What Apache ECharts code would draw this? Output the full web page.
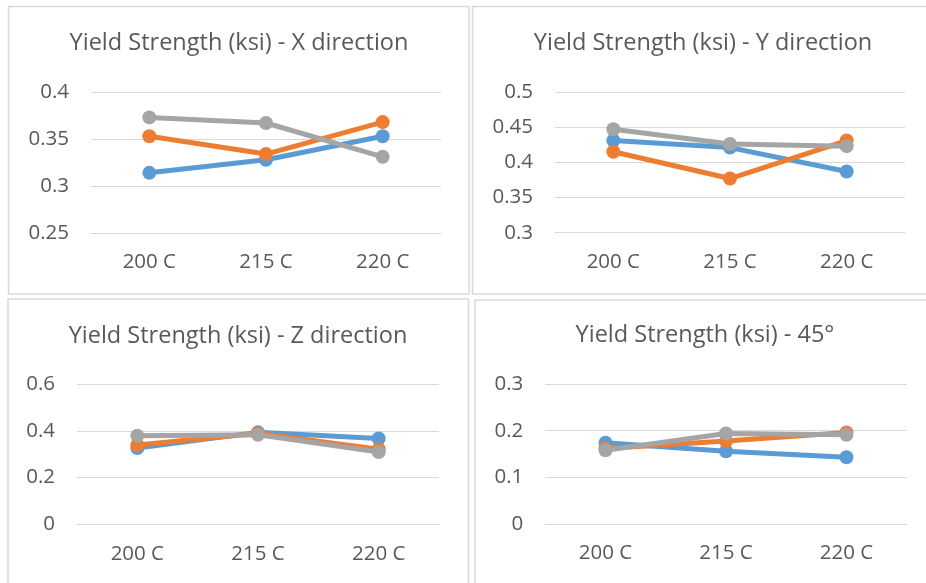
<!DOCTYPE html>
<html>
<head>
<meta charset="utf-8">
<script src="https://cdn.jsdelivr.net/npm/echarts@6/dist/echarts.min.js"></script>
<style>
html,body{margin:0;padding:0;background:#fff;}
#c{width:926px;height:583px;}
</style>
</head>
<body>
<div id="c"></div>
<script>
const categories = ['200 C', '215 C', '220 C'];
const titles = [
  'Yield Strength (ksi) - X direction',
  'Yield Strength (ksi) - Y direction',
  'Yield Strength (ksi) - Z direction',
  'Yield Strength (ksi) - 45°'
];
// series values per panel: [blue, orange, grey]
const xBlue = [0.314, 0.328, 0.353];
const xOrange = [0.353, 0.334, 0.368];
const xGrey = [0.373, 0.367, 0.331];
const yBlue = [0.431, 0.421, 0.387];
const yOrange = [0.415, 0.377, 0.431];
const yGrey = [0.447, 0.426, 0.423];
const zBlue = [0.327, 0.394, 0.368];
const zOrange = [0.340, 0.390, 0.322];
const zGrey = [0.380, 0.384, 0.310];
const d45Blue = [0.174, 0.156, 0.143];
const d45Orange = [0.162, 0.178, 0.196];
const d45Grey = [0.158, 0.194, 0.191];
// y-axis scales: [min, max, interval]
const yScales = [[0.25, 0.4, 0.05], [0.3, 0.5, 0.05], [0, 0.6, 0.2], [0, 0.3, 0.1]];

const panelData = [
  [xBlue, xOrange, xGrey],
  [yBlue, yOrange, yGrey],
  [zBlue, zOrange, zGrey],
  [d45Blue, d45Orange, d45Grey]
];
const colors = ['#5B9BD5', '#ED7D31', '#A5A5A5'];
const FONT = 'Open Sans';
const TXT = '#595959';
const GRIDC = '#d9d9d9';

// layout
const grids = [
  {left: 91, top: 92, width: 350, height: 141},
  {left: 555, top: 92, width: 350, height: 140.7},
  {left: 77, top: 384.3, width: 362, height: 140},
  {left: 545.3, top: 384, width: 361.4, height: 140}
];
const titlePos = [[239, 43], [703, 43], [238, 336], [705, 335]];
const panels = [
  {x: 8.5, y: 6.5, w: 460.5, h: 287.5},
  {x: 472.5, y: 6.5, w: 470, h: 287.5},
  {x: 8, y: 299, w: 460.5, h: 300},
  {x: 475, y: 300, w: 470, h: 300}
];

const chart = echarts.init(document.getElementById('c'), null, {renderer: 'canvas'});
const option = {
  animation: false,
  backgroundColor: '#fff',
  textStyle: {fontFamily: FONT},
  title: titles.map((t, i) => ({
    text: t,
    left: titlePos[i][0],
    top: titlePos[i][1] - 15,
    textAlign: 'center',
    textStyle: {fontFamily: FONT, fontSize: 23.5, fontWeight: 'normal', color: TXT, lineHeight: 30},
    padding: 0
  })),
  graphic: panels.map(p => ({
    type: 'rect', silent: true, z: -1,
    shape: {x: p.x, y: p.y, width: p.w, height: p.h},
    style: {fill: 'none', stroke: GRIDC, lineWidth: 1.5}
  })),
  grid: grids.map(g => Object.assign({containLabel: false}, g)),
  xAxis: grids.map((g, i) => ({
    type: 'category', gridIndex: i, data: categories,
    boundaryGap: true,
    axisLine: {show: true, lineStyle: {color: GRIDC, width: 1}},
    axisTick: {show: false},
    axisLabel: {color: TXT, fontSize: 20.5, fontFamily: FONT, margin: 19},
    splitLine: {show: false}
  })),
  yAxis: yScales.map((s, i) => ({
    type: 'value', gridIndex: i, min: s[0], max: s[1], interval: s[2],
    axisLine: {show: false}, axisTick: {show: false},
    axisLabel: {color: TXT, fontSize: 20.5, fontFamily: FONT, margin: 22,
      formatter: v => String(+v.toFixed(4))},
    splitLine: {show: true, lineStyle: {color: GRIDC, width: 1}}
  })),
  series: []
};
panelData.forEach((sets, i) => {
  sets.forEach((vals, k) => {
    option.series.push({
      type: 'line', xAxisIndex: i, yAxisIndex: i, data: vals,
      symbol: 'circle', symbolSize: 14,
      lineStyle: {color: colors[k], width: 5},
      itemStyle: {color: colors[k]},
      z: 2 + k
    });
  });
});
chart.setOption(option);
</script>
</body>
</html>
